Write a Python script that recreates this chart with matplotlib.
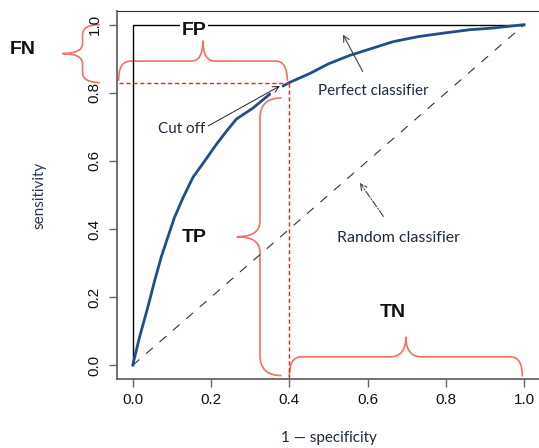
import matplotlib
matplotlib.use("Agg")
from matplotlib import pyplot as plt
from matplotlib.path import Path
from matplotlib.patches import PathPatch

# ROC curve
fpr = [0, 0.018, 0.039, 0.056, 0.073, 0.09, 0.107, 0.129, 0.154, 0.184, 0.214, 0.24,
       0.265, 0.307, 0.35,
       0.384, 0.40, 0.453, 0.50, 0.555, 0.61, 0.665, 0.73, 0.793, 0.86, 0.92, 0.96, 1.0]
tpr = [0, 0.085, 0.172, 0.248, 0.318, 0.377, 0.435, 0.493, 0.552, 0.60, 0.649, 0.688,
       0.723, 0.755, 0.796,
       0.82, 0.83, 0.857, 0.885, 0.91, 0.93, 0.95, 0.965, 0.975, 0.985, 0.99, 0.995, 1.0]
gap_at = 15  # curve is broken just before the cut off arrow head

cut_x = 0.4
cut_y = 0.83

ticks = [0.0, 0.2, 0.4, 0.6, 0.8, 1.0]
tick_labels = ["0.0", "0.2", "0.4", "0.6", "0.8", "1.0"]

brace_col = "#fa6e5e"
txt_col = "#1d2a3c"


def brace(ax, a, b, end, body, tip, r, rt, vertical=False):
    m = (a + b) / 2
    pts = [(a, end), (a, body), (a + r, body), (m - rt, body), (m, body), (m, tip),
           (m, body), (m + rt, body), (b - r, body), (b, body), (b, end)]
    codes = [Path.MOVETO, Path.CURVE3, Path.CURVE3, Path.LINETO, Path.CURVE3, Path.CURVE3,
             Path.CURVE3, Path.CURVE3, Path.LINETO, Path.CURVE3, Path.CURVE3]
    if vertical:
        pts = [(v, u) for u, v in pts]
    ax.add_patch(PathPatch(Path(pts, codes), fill=False, edgecolor=brace_col, lw=1.2,
                           clip_on=False, transform=ax.transData))


fig = plt.figure(figsize=(5.39, 4.48), dpi=100)
ax = fig.add_axes([117 / 539, 1 - 379 / 448, 423 / 539, 368 / 448])
ax.set_xlim(-0.04, 1.04)
ax.set_ylim(-0.04, 1.04)

# perfect classifier box + random diagonal
ax.plot([0, 0, 1], [0, 1, 1], color="black", lw=1)
ax.plot([0, 1], [0, 1], color="#333333", lw=0.8, ls=(0, (8, 8)))

# ROC curve
roc = dict(color="#1f4e8a", lw=2, solid_joinstyle="round", solid_capstyle="round")
ax.plot(fpr[:gap_at], tpr[:gap_at], **roc)
ax.plot(fpr[gap_at:], tpr[gap_at:], **roc)

# cut off guides
ax.plot([-0.036, cut_x], [cut_y, cut_y], color="#ff1a1a", lw=1, ls=(0, (3, 2)), clip_on=False)
ax.plot([cut_x, cut_x], [cut_y, -0.04], color="#ff1a1a", lw=1, ls=(0, (3, 2)))

# braces
brace(ax, -0.036, cut_x - 0.005, cut_y + 0.005, 0.893, 0.953, 0.03, 0.03)
brace(ax, cut_y, 1.0, -0.084, -0.128, -0.179, 0.03, 0.03, vertical=True)
brace(ax, -0.03, cut_y - 0.045, cut_x - 0.02, 0.325, 0.266, 0.06, 0.045, vertical=True)
brace(ax, cut_x, 0.995, -0.033, 0.025, 0.084, 0.03, 0.04)

bold = dict(fontsize=14, fontweight="bold", family="Liberation Sans", color="#111111",
            ha="center", va="center")
ax.text(0.156, 0.983, "FP", bbox=dict(facecolor="white", edgecolor="none", pad=1), **bold)
ax.text(0.158, 0.375, "TP", **bold)
ax.text(0.665, 0.155, "TN", **bold)
fig.text(23 / 539, 1 - 50 / 448, "FN", **bold)

# annotations
ann = dict(fontsize=11, family="Lato", color=txt_col, ha="center", va="center")
ax.annotate("Cut off", xy=(0.376, 0.82), xytext=(0.125, 0.694),
            arrowprops=dict(arrowstyle="->", color="#222222", lw=0.7,
                            shrinkA=0, shrinkB=0, relpos=(1.0, 0.6)), **ann)
ax.annotate("Perfect classifier", xy=(0.537, 0.971), xytext=(0.614, 0.805),
            arrowprops=dict(arrowstyle="->", color="#444444", lw=0.8,
                            shrinkA=8, shrinkB=0), **ann)
ann["fontsize"] = 11.5
ax.annotate("Random classifier", xy=(0.58, 0.536), xytext=(0.678, 0.375),
            arrowprops=dict(arrowstyle="->", color="#444444", lw=0.8, ls="-.",
                            shrinkA=10, shrinkB=0), **ann)

# axes, R style
ax.set_xticks(ticks)
ax.set_xticklabels(tick_labels)
ax.set_yticks(ticks)
ax.set_yticklabels(tick_labels, rotation=90, va="center")
ax.tick_params(length=6, width=1, color="#666666", labelsize=11, labelcolor="#111111", pad=4)
ax.tick_params(axis="y", pad=5)
for t in ax.get_xticklabels() + ax.get_yticklabels():
    t.set_family("Liberation Sans")
ax.spines["right"].set_visible(False)
ax.spines["top"].set_color("#333333")
for s in ["left", "bottom"]:
    ax.spines[s].set_color("#666666")
    ax.spines[s].set_linewidth(1.3)

ax.set_xlabel("1 \u2014 specificity", fontsize=11, family="Lato", color=txt_col, labelpad=17)
ax.set_ylabel("sensitivity", fontsize=11, family="Lato", color="#2a3a55", labelpad=30)

fig.savefig("out.png", dpi=100)
